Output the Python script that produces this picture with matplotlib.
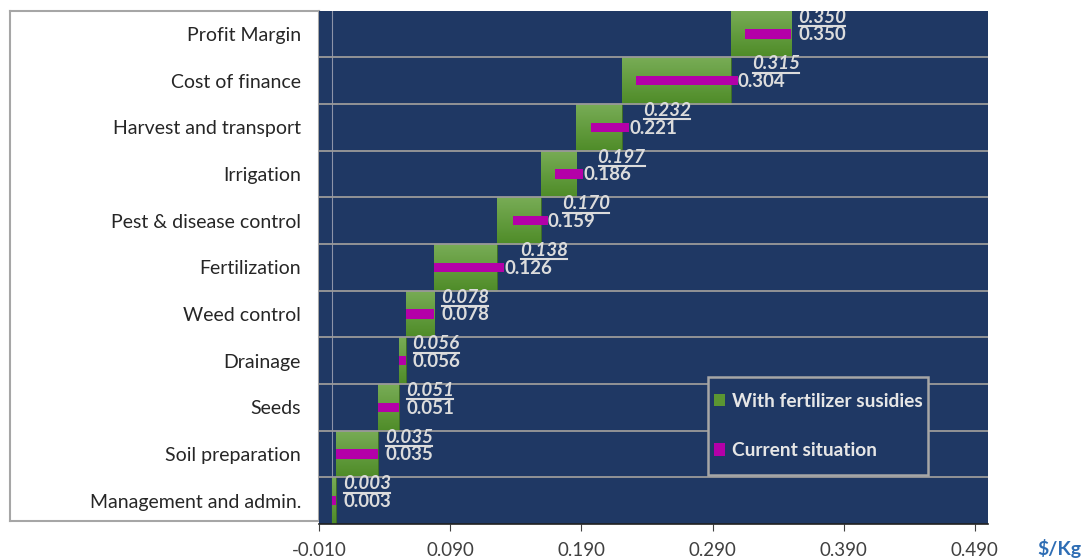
import matplotlib
matplotlib.use("Agg")
import matplotlib.pyplot as plt
import numpy as np
from matplotlib.patches import Rectangle, Patch
from matplotlib.lines import Line2D
from matplotlib.colors import LinearSegmentedColormap

categories = ["Management and admin.", "Soil preparation", "Seeds", "Drainage",
              "Weed control", "Fertilization", "Pest & disease control",
              "Irrigation", "Harvest and transport", "Cost of finance", "Profit Margin"]
subsidy_cum = [0.003, 0.035, 0.051, 0.056, 0.078, 0.126, 0.159, 0.186, 0.221, 0.304, 0.350]
current_cum = [0.003, 0.035, 0.051, 0.056, 0.078, 0.138, 0.170, 0.197, 0.232, 0.315, 0.350]
xticks = [-0.010, 0.090, 0.190, 0.290, 0.390, 0.490]
legend_labels = ["With fertilizer susidies", "Current situation"]

FONT = "Lato"
NAVY = "#1F3864"
GREEN = "#5B9632"
MAGENTA = "#B400A8"
LBL = "#DCDCDC"

W, H = 1081, 559
fig = plt.figure(figsize=(W / 100, H / 100), dpi=100)
fig.patch.set_facecolor("white")

# white label frame (background axes)
bg = fig.add_axes([10 / W, 1 - 521 / H, (319 - 10) / W, (521 - 11) / H], zorder=0)
bg.set_xticks([]); bg.set_yticks([])
bg.set_facecolor("white")
for sp in bg.spines.values():
    sp.set_color("#A6A6A6"); sp.set_linewidth(1.5)

ax = fig.add_axes([319 / W, 1 - 524 / H, (988 - 319) / W, (524 - 10.5) / H], zorder=1)
ax.set_facecolor(NAVY)
ax.set_xlim(-0.01, 0.50)
ax.set_ylim(-0.5, len(categories) - 0.5)

y = np.arange(len(categories))
sub_start = [0.0] + subsidy_cum[:-1]
cur_start = [0.0] + current_cum[:-1]

ax.axvline(0.0, color="#8C93A8", lw=0.8, zorder=1)

grad = np.linspace(0, 1, 64).reshape(-1, 1)
gcm = LinearSegmentedColormap.from_list("g", ["#78AC56", "#4F8C28"])
for yi, s, e in zip(y, sub_start, subsidy_cum):
    rect = Rectangle((s, yi - 0.5), e - s, 1.0, facecolor=GREEN, edgecolor="#3F6F22",
                     linewidth=0.6, zorder=2)
    ax.add_patch(rect)
    im = ax.imshow(grad, cmap=gcm, aspect="auto", extent=(s, e, yi - 0.5, yi + 0.5),
                   zorder=2.1, origin="upper")
    im.set_clip_path(rect)

for b in np.arange(0.5, len(categories) - 0.5, 1.0):
    ax.axhline(b, color="#9A9A9A", lw=1.3, zorder=2.5)

ax.barh(y, np.array(current_cum) - np.array(cur_start), left=cur_start, height=0.2,
        color=MAGENTA, zorder=3)

fig.canvas.draw()
r = fig.canvas.get_renderer()
xpx = 1.0 / 1310 * 7
inv = fig.transFigure.inverted()
for yi, sv, cv in zip(y, subsidy_cum, current_cum):
    ax.text(sv + xpx, yi - 0.02, f"{sv:.3f}", color=LBL, fontsize=13.5, fontweight="bold",
            family=FONT, va="center", ha="left", zorder=5,
            bbox=dict(boxstyle="square,pad=0.0", facecolor=NAVY, edgecolor="none"))
    t2 = ax.text(cv + xpx, yi + 0.36, f"{cv:.3f}", color=LBL, fontsize=13.5, fontweight="bold",
                 style="italic", family=FONT, va="center", ha="left", zorder=5, clip_on=True)
    bb = t2.get_window_extent(renderer=r)
    (x0, y0), (x1, _) = inv.transform([(bb.x0 + 1, bb.y0 - 0.5), (bb.x1 - 1, bb.y0)])
    fig.lines.append(Line2D([x0, x1], [y0, y0], transform=fig.transFigure,
                            color=LBL, lw=1.5, zorder=6))

ax.set_yticks(y)
ax.set_yticklabels(categories, family=FONT, fontsize=14, color="#262626")
ax.tick_params(axis="y", length=0, pad=13)
ax.set_xticks(xticks)
ax.set_xticklabels([f"{t:.3f}" for t in xticks], family=FONT, fontsize=13.5, color="#404040")
ax.tick_params(axis="x", direction="out", length=5, color="#404040", pad=8)
for side in ["top", "right", "left"]:
    ax.spines[side].set_visible(False)
ax.spines["bottom"].set_color("#202020")
ax.spines["bottom"].set_linewidth(1.2)

fig.text(1059 / W, 1 - 548 / H, "$/Kg", color="#2E6DB4", fontsize=14, fontweight="bold",
         family=FONT, ha="center", va="center")

# legend box
lx0, lx1, ly0, ly1 = 708, 928, 377, 475
box = [(lx0 - 319) / (988 - 319), (524 - ly1) / (524 - 10.5),
       (lx1 - lx0) / (988 - 319), (ly1 - ly0) / (524 - 10.5)]
ax.add_patch(Rectangle((box[0], box[1]), box[2], box[3], transform=ax.transAxes,
                       facecolor=NAVY, edgecolor="#A6A6A6", linewidth=1.8, zorder=9))
handles = [Patch(facecolor=GREEN, edgecolor="none"), Patch(facecolor=MAGENTA, edgecolor="none")]
leg = ax.legend(handles, legend_labels, loc="center", bbox_to_anchor=tuple(box),
                frameon=False, labelspacing=1.69, handlelength=0.6, handleheight=0.6,
                handletextpad=0.35, borderpad=0.0, borderaxespad=0,
                prop=dict(family=FONT, size=13.8, weight="bold"))
leg.set_zorder(10)
for t in leg.get_texts():
    t.set_color("#E6E6E6")

fig.savefig("out.png", dpi=100)
